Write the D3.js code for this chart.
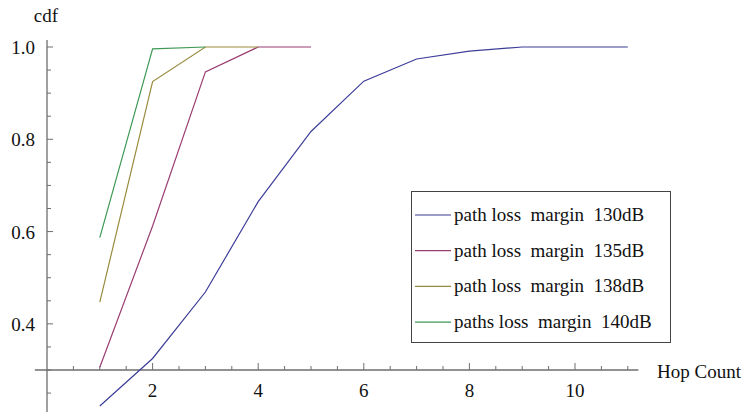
<!DOCTYPE html>
<html>
<head>
<meta charset="utf-8">
<script src="https://cdn.jsdelivr.net/npm/d3@7/dist/d3.min.js"></script>
<style>
  body { margin: 0; background: #fff; }
</style>
</head>
<body>
<div id="container"></div>
<script>
// données
const hops130 = [1, 2, 3, 4, 5, 6, 7, 8, 9, 10, 11],
  cdf130 = [0.222, 0.325, 0.469, 0.665, 0.817, 0.926, 0.974, 0.991, 1.0, 1.0, 1.0];
const hops135 = [1, 2, 3, 4, 5],
  cdf135 = [0.306, 0.612, 0.946, 1.0, 1.0];
const hops138 = [1, 2, 3, 4],
  cdf138 = [0.447, 0.925, 1.0, 1.0];
const hops140 = [1, 2, 3],
  cdf140 = [0.587, 0.996, 1.0];

const seriesNames = ["path loss  margin  130dB", "path loss  margin  135dB",
  "path loss  margin  138dB", "paths loss  margin  140dB"];
const seriesColors = ["#3d3d99", "#993d71", "#998b3d", "#3d9954"];

const xMajor = [2, 4, 6, 8, 10],
  xMinor = [0.5, 1, 1.5, 2.5, 3, 3.5, 4.5, 5, 5.5, 6.5, 7, 7.5, 8.5, 9, 9.5, 10.5, 11];
const yMajor = [0.4, 0.6, 0.8, 1.0],
  yMinor = [0.25, 0.3, 0.35, 0.45, 0.5, 0.55, 0.65, 0.7, 0.75, 0.85, 0.9, 0.95];

const width = 748, height = 412, fontSize = 19, axisColor = "#6e6e6e",
  fontPolice = "Liberation Serif";

const svg = d3.select("#container").append("svg")
  .attr("width", width)
  .attr("height", height);

const x = d3.scaleLinear().domain([0, 11]).range([47, 47 + 11 * 52.8]);
const y = d3.scaleLinear().domain([0.3, 1.0]).range([370, 47]);

/* axe x */
const xAxis = svg.append("g").attr("transform", "translate(0," + y(0.3) + ")");
xAxis.append("line")
  .attr("x1", x(-0.23)).attr("x2", x(11.2))
  .attr("stroke", axisColor).attr("stroke-width", 1.3);
xAxis.selectAll("line.major").data(xMajor).enter().append("line")
  .attr("class", "major")
  .attr("x1", d => x(d)).attr("x2", d => x(d))
  .attr("y1", 0).attr("y2", -7)
  .attr("stroke", axisColor).attr("stroke-width", 1);
xAxis.selectAll("line.minor").data(xMinor).enter().append("line")
  .attr("class", "minor")
  .attr("x1", d => x(d)).attr("x2", d => x(d))
  .attr("y1", 0).attr("y2", -4)
  .attr("stroke", axisColor).attr("stroke-width", 1);
xAxis.selectAll("text").data(xMajor).enter().append("text")
  .attr("x", d => x(d))
  .attr("y", 27)
  .attr("font-family", fontPolice)
  .attr("font-size", fontSize)
  .attr("text-anchor", "middle")
  .attr("fill", "#111")
  .text(d => d);

/* axe y */
const yAxis = svg.append("g").attr("transform", "translate(" + x(0) + ",0)");
yAxis.append("line")
  .attr("y1", y(1.015)).attr("y2", height)
  .attr("stroke", axisColor).attr("stroke-width", 1.3);
yAxis.selectAll("line.major").data(yMajor).enter().append("line")
  .attr("class", "major")
  .attr("y1", d => y(d)).attr("y2", d => y(d))
  .attr("x1", 0).attr("x2", 6)
  .attr("stroke", axisColor).attr("stroke-width", 1);
yAxis.selectAll("line.minor").data(yMinor).enter().append("line")
  .attr("class", "minor")
  .attr("y1", d => y(d)).attr("y2", d => y(d))
  .attr("x1", 0).attr("x2", 4)
  .attr("stroke", axisColor).attr("stroke-width", 1);
yAxis.selectAll("text").data(yMajor).enter().append("text")
  .attr("x", -12)
  .attr("y", d => y(d) + 7)
  .attr("font-family", fontPolice)
  .attr("font-size", fontSize)
  .attr("text-anchor", "end")
  .attr("fill", "#111")
  .text(d => d3.format(".1f")(d));

svg.append("text")
  .attr("x", 46).attr("y", 22)
  .attr("font-family", fontPolice)
  .attr("font-size", fontSize)
  .attr("text-anchor", "middle")
  .attr("fill", "#111")
  .text("cdf");
svg.append("text")
  .attr("x", 657).attr("y", 378)
  .attr("font-family", fontPolice)
  .attr("font-size", fontSize)
  .attr("fill", "#111")
  .text("Hop Count");

/* courbes */
const series = [
  { hops: hops130, cdf: cdf130 },
  { hops: hops135, cdf: cdf135 },
  { hops: hops138, cdf: cdf138 },
  { hops: hops140, cdf: cdf140 }
];
const line = d3.line().x(d => x(d[0])).y(d => y(d[1]));
svg.append("g").selectAll("path").data(series).enter().append("path")
  .attr("d", s => line(s.hops.map((h, i) => [h, s.cdf[i]])))
  .attr("fill", "none")
  .attr("stroke", (s, i) => seriesColors[i])
  .attr("stroke-width", 1.2);

/* légende */
const legend = svg.append("g");
legend.append("rect")
  .attr("x", 411.5).attr("y", 191.5)
  .attr("width", 259).attr("height", 151)
  .attr("fill", "#fff").attr("stroke", "#444").attr("stroke-width", 1);
const rows = legend.selectAll("g.row").data(seriesNames).enter().append("g")
  .attr("class", "row")
  .attr("transform", (d, i) => "translate(0," + (215 + i * 35.7) + ")");
rows.append("line")
  .attr("x1", 415).attr("x2", 451)
  .attr("stroke", (d, i) => seriesColors[i]).attr("stroke-width", 1.2);
rows.append("text")
  .attr("x", 454).attr("y", 6)
  .attr("font-family", fontPolice)
  .attr("font-size", fontSize)
  .attr("fill", "#111")
  .style("white-space", "pre")
  .text(d => d);
</script>
</body>
</html>
